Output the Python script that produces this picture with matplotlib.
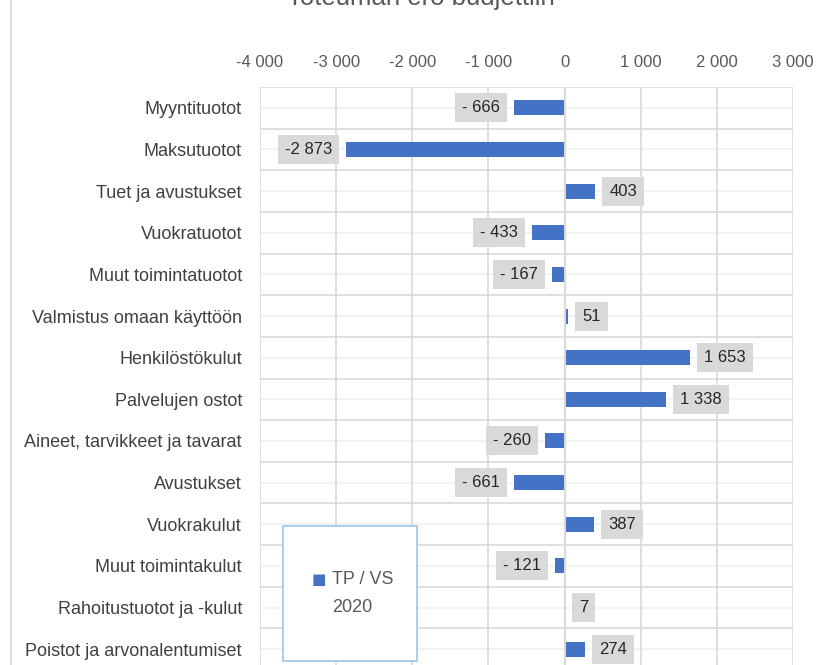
import numpy as np
import matplotlib.pyplot as plt
from matplotlib.patches import Rectangle
from matplotlib.lines import Line2D

# Data
categories = [
    "Myyntituotot", "Maksutuotot", "Tuet ja avustukset", "Vuokratuotot",
    "Muut toimintatuotot", "Valmistus omaan käyttöön", "Henkilöstökulut",
    "Palvelujen ostot", "Aineet, tarvikkeet ja tavarat", "Avustukset",
    "Vuokrakulut", "Muut toimintakulut", "Rahoitustuotot ja -kulut",
    "Poistot ja arvonalentumiset",
]
values = [-666, -2873, 403, -433, -167, 51, 1653, 1338, -260, -661, 387, -121, 7, 274]
xticks = [-4000, -3000, -2000, -1000, 0, 1000, 2000, 3000]
series_name = ["TP / VS", "2020"]
title = "Toteuman ero budjettiin"

BAR = "#4472c4"
TXT = "#595959"
GRID = "#d9d9d9"


def fmt(v):
    s = f"{abs(v):,}".replace(",", " ")
    if v < 0:
        return ("- " if abs(v) < 1000 else "-") + s
    return s


plt.rcParams['font.family'] = ['Liberation Sans', 'DejaVu Sans']

W, H = 818, 665
fig = plt.figure(figsize=(W / 100, H / 100), dpi=100)
ax = fig.add_axes([260 / W, 1 - 670 / H, (793 - 260) / W, (670 - 87) / H])

y = np.arange(len(categories))
ax.barh(y, values, height=0.36, color=BAR, zorder=3)

ax.set_ylim(len(categories) - 0.5, -0.5)
ax.set_xlim(-4000, 3000)
ax.set_xticks(xticks)
ax.set_xticklabels([fmt(t) if t != 0 else "0" for t in xticks], fontsize=12, color=TXT)
ax.xaxis.tick_top()
ax.set_yticks(y)
ax.set_yticklabels(categories, fontsize=13, color="#404040")
ax.tick_params(length=0)
ax.tick_params(axis="y", pad=13)
ax.tick_params(axis="x", pad=12)

# grid: major lines between categories, faint ones through category centres
for b in np.arange(len(categories) + 1) - 0.5:
    ax.axhline(b, color=GRID, lw=1.2, zorder=1)
for c in y:
    ax.axhline(c, color="#f0f0f0", lw=1.2, zorder=1)
for t in xticks:
    ax.axvline(t, color=GRID, lw=1.2, zorder=1)
for s in ax.spines.values():
    s.set_visible(False)
ax.axvline(0, color=GRID, lw=1.5, zorder=4)

# data labels
for yi, v in zip(y, values):
    off = 10 if v >= 0 else -10
    ax.annotate(fmt(v), (v, yi), xytext=(off, 0), textcoords="offset points",
                ha="left" if v >= 0 else "right", va="center",
                fontsize=12, color="#262626", zorder=5,
                bbox=dict(boxstyle="square,pad=0.42", fc="#d9d9d9", ec="none"))

# legend box
fig.patches.append(Rectangle((283 / W, 1 - 661 / H), (417 - 283) / W, (661 - 526) / H,
                             transform=fig.transFigure, fc="white", ec="#9dc3e6", lw=1.2,
                             zorder=10))
fig.text(312 / W, 1 - 580 / H, "■", color=BAR, fontsize=11, va="center", ha="left",
         family="DejaVu Sans", zorder=11)
fig.text(332 / W, 1 - 580 / H, series_name[0], color=TXT, fontsize=13, va="center", zorder=11)
fig.text(332 / W, 1 - 607 / H, series_name[1], color=TXT, fontsize=13, va="center",
         zorder=11)

# chart frame edge at left
fig.add_artist(Line2D([11 / W, 11 / W], [0, 1], transform=fig.transFigure, color=GRID, lw=1.2))

fig.text(421 / W, 1 - 5 / H, title, fontsize=18.5, color=TXT, ha="center", va="baseline")

fig.savefig("out.png", dpi=100)
